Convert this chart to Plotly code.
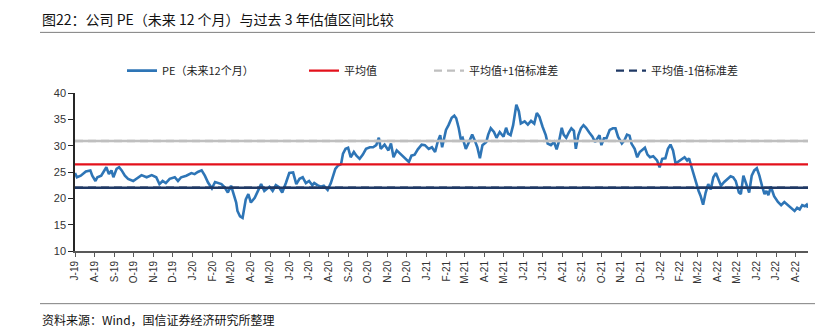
import plotly.graph_objects as go

# ---------------- data ----------------
pe_dates = [
    # 2019
    "2019-07-01", "2019-07-04", "2019-07-10", "2019-07-18", "2019-07-25", "2019-07-28",
    "2019-08-02", "2019-08-05", "2019-08-11", "2019-08-19", "2019-08-23", "2019-08-27", "2019-08-30",
    "2019-09-04", "2019-09-08", "2019-09-12", "2019-09-17", "2019-09-22", "2019-09-30",
    "2019-10-05", "2019-10-13", "2019-10-21", "2019-10-29",
    "2019-11-05", "2019-11-10", "2019-11-15", "2019-11-20", "2019-11-26",
    "2019-12-04", "2019-12-09", "2019-12-14", "2019-12-22", "2019-12-30",
    # 2020
    "2020-01-04", "2020-01-09", "2020-01-15", "2020-01-20", "2020-01-25", "2020-01-31",
    "2020-02-05", "2020-02-10", "2020-02-15", "2020-02-20", "2020-02-25",
    "2020-03-01", "2020-03-05", "2020-03-09", "2020-03-11", "2020-03-15", "2020-03-19",
    "2020-03-21", "2020-03-24", "2020-03-28",
    "2020-04-01", "2020-04-07", "2020-04-12", "2020-04-17", "2020-04-22", "2020-04-30",
    "2020-05-05", "2020-05-10", "2020-05-15", "2020-05-20", "2020-05-26", "2020-05-31",
    "2020-06-06", "2020-06-11", "2020-06-16", "2020-06-21", "2020-06-26",
    "2020-07-01", "2020-07-06", "2020-07-09", "2020-07-14", "2020-07-19", "2020-07-24", "2020-07-30",
    "2020-08-04", "2020-08-07", "2020-08-11", "2020-08-15", "2020-08-20", "2020-08-23", "2020-08-27", "2020-08-31",
    "2020-09-04", "2020-09-09", "2020-09-13", "2020-09-18", "2020-09-23", "2020-09-28",
    "2020-10-04", "2020-10-09", "2020-10-14", "2020-10-18", "2020-10-21", "2020-10-27",
    "2020-11-02", "2020-11-06", "2020-11-10", "2020-11-15", "2020-11-20", "2020-11-25", "2020-11-30",
    "2020-12-04", "2020-12-08", "2020-12-13", "2020-12-18", "2020-12-24", "2020-12-29",
    # 2021
    "2021-01-04", "2021-01-09", "2021-01-14", "2021-01-18", "2021-01-22", "2021-01-25", "2021-01-27", "2021-01-31",
    "2021-02-04", "2021-02-09", "2021-02-13", "2021-02-16", "2021-02-20", "2021-02-23", "2021-02-26",
    "2021-03-03", "2021-03-08", "2021-03-13", "2021-03-17", "2021-03-21", "2021-03-25", "2021-03-29",
    "2021-04-04", "2021-04-07", "2021-04-11", "2021-04-16", "2021-04-20", "2021-04-25",
    "2021-05-01", "2021-05-05", "2021-05-08", "2021-05-12", "2021-05-16", "2021-05-19", "2021-05-21",
    "2021-05-25", "2021-05-28",
    "2021-06-03", "2021-06-08", "2021-06-13", "2021-06-18", "2021-06-22", "2021-06-26",
    "2021-07-01", "2021-07-06", "2021-07-09", "2021-07-14", "2021-07-19", "2021-07-23", "2021-07-27", "2021-07-31",
    "2021-08-03", "2021-08-07", "2021-08-11", "2021-08-15", "2021-08-19", "2021-08-22", "2021-08-26", "2021-08-30",
    "2021-09-03", "2021-09-07", "2021-09-12", "2021-09-17", "2021-09-21", "2021-09-25", "2021-09-28",
    "2021-10-01", "2021-10-05", "2021-10-09", "2021-10-14", "2021-10-19", "2021-10-23", "2021-10-27",
    "2021-11-02", "2021-11-06", "2021-11-10", "2021-11-14", "2021-11-17", "2021-11-22", "2021-11-26", "2021-11-30",
    "2021-12-05", "2021-12-08", "2021-12-12", "2021-12-16", "2021-12-21", "2021-12-27", "2021-12-31",
    # 2022
    "2022-01-04", "2022-01-09", "2022-01-13", "2022-01-17", "2022-01-21", "2022-01-25", "2022-01-30",
    "2022-02-04", "2022-02-08", "2022-02-12", "2022-02-15", "2022-02-19", "2022-02-22", "2022-02-26",
    "2022-03-02", "2022-03-05", "2022-03-09", "2022-03-13", "2022-03-17", "2022-03-21", "2022-03-25", "2022-03-29",
    "2022-04-02", "2022-04-06", "2022-04-11", "2022-04-16", "2022-04-21", "2022-04-25", "2022-04-29",
    "2022-05-04", "2022-05-07", "2022-05-11", "2022-05-15", "2022-05-20", "2022-05-24", "2022-05-28",
    "2022-06-01", "2022-06-05", "2022-06-09", "2022-06-13", "2022-06-16", "2022-06-19", "2022-06-23", "2022-06-28",
    "2022-07-04", "2022-07-09", "2022-07-14", "2022-07-19", "2022-07-24", "2022-07-30",
    "2022-08-03", "2022-08-07", "2022-08-11", "2022-08-15", "2022-08-18", "2022-08-20",
]

pe_values = [
    # 2019
    24.8, 24.0, 24.3, 25.1, 25.3, 24.3,
    23.3, 24.0, 24.3, 25.9, 24.6, 25.3, 24.0,
    25.6, 25.9, 25.3, 24.3, 23.7, 23.3,
    23.7, 24.4, 24.0, 24.4,
    24.0, 22.7, 23.3, 22.9, 23.7,
    24.0, 23.3, 24.0, 24.3, 24.8,
    # 2020
    24.6, 25.0, 25.3, 24.3, 23.0, 21.9,
    23.1, 22.9, 22.7, 22.1, 21.1,
    22.4, 20.8, 19.2, 17.6, 16.6, 16.3,
    17.9, 19.8, 20.8,
    19.2, 20.1, 21.4, 22.7, 21.4, 22.2,
    21.4, 22.5, 22.1, 21.1, 23.0, 24.8,
    24.9, 22.7, 23.7, 24.0, 22.9,
    23.3, 22.5, 22.9, 22.5, 22.2, 22.4, 21.6,
    22.9, 24.0, 25.6, 26.2, 26.5, 28.5, 29.4, 29.6,
    27.8, 28.8, 28.1, 27.5, 28.3, 29.4,
    29.7, 29.7, 30.1, 31.5, 29.4, 30.2,
    29.1, 30.4, 27.8, 29.1, 28.5, 27.8, 27.2,
    26.9, 28.1, 28.3, 29.3, 30.2, 30.1,
    # 2021
    29.4, 29.7, 28.8, 30.7, 32.0, 29.7, 31.0, 33.0,
    33.9, 35.3, 35.7, 35.2, 33.3, 31.3, 31.5,
    29.4, 30.7, 32.1, 31.0, 29.7, 27.6, 30.1,
    30.7, 32.1, 33.3, 32.6, 31.5, 32.6,
    31.7, 33.4, 32.3, 32.0, 33.9, 36.2, 37.8,
    36.5, 34.2,
    34.6, 34.0, 34.7, 34.2, 36.2, 35.5,
    33.6, 32.0, 30.4, 30.1, 30.7, 29.3, 31.0, 33.4,
    32.1, 31.5, 32.5, 33.3, 32.8, 29.4, 32.0, 33.3,
    33.9, 33.4, 32.5, 31.7, 30.7, 31.5, 32.0,
    30.1, 31.4, 31.4, 33.0, 33.3, 33.3, 31.7,
    30.4, 31.0, 32.1, 31.9, 30.4, 29.4, 27.8, 28.8,
    29.4, 29.6, 28.3, 27.8, 28.0, 27.2, 25.9,
    # 2022
    27.5, 27.6, 29.4, 30.2, 29.1, 26.6, 27.0,
    27.5, 27.8, 27.2, 27.6, 25.9, 24.6, 23.3,
    21.4, 20.5, 18.8, 21.1, 22.7, 21.7, 24.0, 24.8,
    23.7, 22.4, 23.1, 23.7, 24.2, 24.0, 23.3,
    21.1, 20.8, 24.3, 22.7, 21.1, 24.3, 25.3,
    25.7, 24.3, 22.4, 20.8, 21.4, 20.6, 22.2, 20.4,
    19.3, 18.7, 19.3, 18.8, 18.2, 17.6,
    18.2, 17.9, 18.7, 18.5, 18.8, 18.2,
]

assert len(pe_dates) == len(pe_values)

pe_mean = 26.45
pe_plus_std = 30.9
pe_minus_std = 22.0

tick_dates = [
    "2019-07-01", "2019-08-01", "2019-09-01", "2019-10-01", "2019-11-01", "2019-12-01",
    "2020-01-01", "2020-02-01", "2020-03-01", "2020-04-01", "2020-05-01", "2020-06-01",
    "2020-07-01", "2020-08-01", "2020-09-01", "2020-10-01", "2020-11-01", "2020-12-01",
    "2021-01-01", "2021-02-01", "2021-03-01", "2021-04-01", "2021-05-01", "2021-06-01",
    "2021-07-01", "2021-08-01", "2021-09-01", "2021-10-01", "2021-11-01", "2021-12-01",
    "2022-01-01", "2022-02-01", "2022-03-01", "2022-04-01", "2022-05-01", "2022-06-01",
    "2022-07-01", "2022-08-01",
]
tick_labels = [
    "J-19", "A-19", "S-19", "O-19", "N-19", "D-19",
    "J-20", "F-20", "M-20", "A-20", "M-20", "J-20",
    "J-20", "A-20", "S-20", "O-20", "N-20", "D-20",
    "J-21", "F-21", "M-21", "A-21", "M-21", "J-21",
    "J-21", "A-21", "S-21", "O-21", "N-21", "D-21",
    "J-22", "F-22", "M-22", "A-22", "M-22", "J-22",
    "J-22", "A-22",
]

title_text = "图22：公司 PE（未来 12 个月）与过去 3 年估值区间比较"
source_text = "资料来源：Wind，国信证券经济研究所整理"
names = ["PE（未来12个月）", "平均值", "平均值+1倍标准差", "平均值-1倍标准差"]

# ---------------- style ----------------
W, H = 839, 333
L, R, T, B = 75, 31, 92.5, 81.5
pw, ph = W - L - R, H - T - B

def px_x(x):
    return (x - L) / pw

def px_y(y):
    return (H - B - y) / ph

CJK = "Noto Sans CJK SC, Liberation Sans, sans-serif"
NUM = "Liberation Sans, Noto Sans CJK SC, sans-serif"

blue = "#2E75B6"
red = "#E3111B"
grey = "#BFBFBF"
navy = "#1F3864"

x_start, x_end = pe_dates[0], "2022-08-20"

fig = go.Figure()

fig.add_trace(go.Scatter(x=pe_dates, y=pe_values, mode="lines", name=names[0],
                         line=dict(color=blue, width=2.6), legend="legend"))

# horizontal reference lines: dashed copy for legend, solid on top in the plot
for val, color, nm, lg, dashed in [
    (pe_mean, red, names[1], "legend2", False),
    (pe_plus_std, grey, names[2], "legend3", True),
    (pe_minus_std, navy, names[3], "legend4", True),
]:
    if dashed:
        fig.add_trace(go.Scatter(x=[x_start, x_end], y=[val, val], mode="lines", name=nm,
                                 line=dict(color=color, width=2.4, dash="8px,5px"),
                                 legend=lg, hoverinfo="skip"))
        fig.add_trace(go.Scatter(x=[x_start, x_end], y=[val, val], mode="lines", name=nm,
                                 line=dict(color=color, width=2.4), showlegend=False))
    else:
        fig.add_trace(go.Scatter(x=[x_start, x_end], y=[val, val], mode="lines", name=nm,
                                 line=dict(color=color, width=2.4), legend=lg))

leg_common = dict(orientation="h", yanchor="middle", xanchor="left",
                  bgcolor="rgba(0,0,0,0)", font=dict(family=CJK, size=11, color="#222"),
                  itemwidth=30, tracegroupgap=0)
legend_y = px_y(70)

fig.update_layout(
    width=W, height=H,
    margin=dict(l=L, r=R, t=T, b=B, autoexpand=False),
    paper_bgcolor="white", plot_bgcolor="white",
    showlegend=True,
    legend=dict(x=px_x(122), y=legend_y, **leg_common),
    legend2=dict(x=px_x(304), y=legend_y, **leg_common),
    legend3=dict(x=px_x(429), y=legend_y, **leg_common),
    legend4=dict(x=px_x(611), y=legend_y, **leg_common),
    xaxis=dict(
        type="date", range=[x_start, x_end],
        tickmode="array", tickvals=tick_dates, ticktext=tick_labels,
        tickangle=-90, tickfont=dict(family=NUM, size=10, color="#333"),
        ticks="outside", ticklen=4, tickcolor="#595959", tickwidth=1,
        showline=True, linecolor="#595959", linewidth=2,
        showgrid=False, zeroline=False,
    ),
    yaxis=dict(
        range=[10, 40], tickmode="array", tickvals=[10, 15, 20, 25, 30, 35, 40],
        tickfont=dict(family=NUM, size=11, color="#333"),
        ticks="outside", ticklen=5, tickcolor="#262626", tickwidth=1,
        showline=True, linecolor="#262626", linewidth=1.5,
        showgrid=False, zeroline=False,
    ),
    annotations=[
        dict(text=title_text, xref="paper", yref="paper", x=px_x(40), y=px_y(18),
             xanchor="left", yanchor="middle", showarrow=False,
             font=dict(family=CJK, size=14, color="#111")),
        dict(text=source_text, xref="paper", yref="paper", x=px_x(40), y=px_y(320),
             xanchor="left", yanchor="middle", showarrow=False,
             font=dict(family=CJK, size=12, color="#111")),
    ],
    shapes=[
        dict(type="line", xref="paper", yref="paper", x0=px_x(40), x1=px_x(815),
             y0=px_y(31.5), y1=px_y(31.5), line=dict(color="#7F7F7F", width=1)),
        dict(type="line", xref="paper", yref="paper", x0=px_x(40), x1=px_x(815),
             y0=px_y(304.5), y1=px_y(304.5), line=dict(color="#7F7F7F", width=1)),
    ],
)

fig.write_html("out.html")
